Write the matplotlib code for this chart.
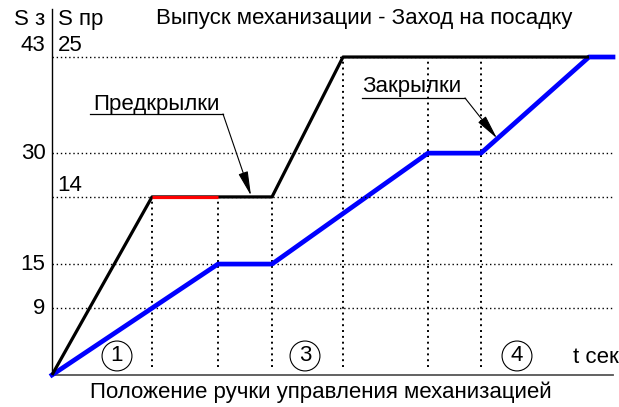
import numpy as np
import matplotlib.pyplot as plt

plt.rcParams['font.family'] = ['Liberation Sans', 'DejaVu Sans']

# time breakpoints (arbitrary seconds)
t_slats = [0, 10, 16.6, 22, 29.1, 53.7]
s_slats = [0, 14, 14, 14, 25, 25]          # S пр
t_flaps = [0, 16.6, 22, 37.6, 42.9, 53.7, 56.1]
s_flaps = [0, 15, 15, 30, 30, 43, 43]      # S з

red_seg = [10, 16.6]                       # slats hold, shown red
grid_flaps = [43, 30, 15, 9]
grid_slats = [25, 14]
vlines_t = [10, 16.6, 22, 29.1, 37.6, 42.9]
circles = [("1", 6.5), ("3", 25.3), ("4", 46.5)]

K = 43 / 25  # S з units per S пр unit
T_END = 56.1


def main():
    fig = plt.figure(figsize=(6.19, 4.07), dpi=100)
    ax = fig.add_axes([0, 0, 1, 1])
    ax.set_xlim(-5.2, 56.7)
    ax.set_ylim(-4.33, 50.71)
    ax.axis("off")
    ax2 = ax.twinx()
    lo, hi = ax.get_ylim()
    ax2.set_ylim(lo / K, hi / K)
    ax2.axis("off")

    dot = (0, (1, 2))
    # horizontal dotted grid
    for v in grid_flaps:
        ax.plot([0, T_END], [v, v], color="black", lw=1, ls=dot, zorder=1)
    ax2.plot([0, T_END], [14, 14], color="black", lw=1, ls=dot, zorder=1)

    # vertical dotted lines from the curves down
    top = np.maximum(np.interp(vlines_t, t_slats, s_slats) * K,
                     np.interp(vlines_t, t_flaps, s_flaps))
    for t, h in zip(vlines_t, top):
        ax.plot([t, t], [1.1, h], color="black", lw=1.4, ls=dot, zorder=1)

    # axes lines
    ax.plot([0, 0], [0, 49.5], color="black", lw=1, zorder=2)
    ax.plot([0, T_END], [0, 0], color="#555555", lw=1.3, zorder=2)

    # curves
    ax2.plot(t_slats, s_slats, color="black", lw=2.3, zorder=3,
             solid_capstyle="butt")
    ax2.plot(red_seg, [14, 14], color="red", lw=2.3, zorder=4,
             solid_capstyle="butt")
    ax.plot(t_flaps, s_flaps, color="#0000ff", lw=3.4, zorder=3,
            solid_joinstyle="round")

    fs = 16
    # tick labels
    for v in grid_flaps:
        va = "bottom" if v == 43 else "center"
        ax.text(-0.65, v + (0.15 if v == 43 else 0), str(v), ha="right",
                va=va, fontsize=fs)
    for v in grid_slats:
        ax2.text(0.55, v + 0.1, str(v), ha="left", va="bottom", fontsize=fs)

    fig.text(0.073, 0.953, "S з", ha="right", va="center", fontsize=fs)
    fig.text(0.093, 0.953, "S пр", ha="left", va="center", fontsize=fs)
    fig.text(0.588, 0.955, "Выпуск механизации - Заход на посадку",
             ha="center", va="center", fontsize=fs)
    fig.text(0.519, 0.036, "Положение ручки управления механизацией",
             ha="center", va="center", fontsize=fs)
    ax.text(52.1, 2.43, "t сек", ha="left", va="center", fontsize=fs)

    for num, t in circles:
        ax.text(t, 2.57, num, ha="center", va="center", fontsize=fs,
                bbox=dict(boxstyle="circle,pad=0.2", fc="none",
                          ec="black", lw=0.8))

    # callouts
    arrow = dict(arrowstyle="-|>,head_length=1.5,head_width=0.3",
                 color="black", lw=0.8, shrinkA=0, shrinkB=0)
    ax.text(4.1, 35.8, "Предкрылки", ha="left", va="baseline", fontsize=fs)
    ax.plot([3.8, 17.1], [35.3, 35.3], color="black", lw=0.9)
    ax2.annotate("", xy=(19.9, 14.1), xytext=(17.1, 35.3 / K),
                 arrowprops=arrow)

    ax.text(31.0, 38.3, "Закрылки", ha="left", va="baseline", fontsize=fs)
    ax.plot([31.0, 41.3], [37.46, 37.46], color="black", lw=0.9)
    ax.annotate("", xy=(44.5, 32.0), xytext=(41.3, 37.46), arrowprops=arrow)

    fig.savefig("out.png", dpi=100)
    plt.close(fig)


if __name__ == "__main__":
    main()
